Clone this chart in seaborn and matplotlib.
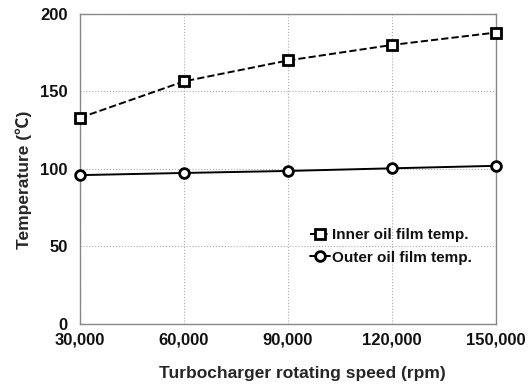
import matplotlib
matplotlib.use("Agg")
import matplotlib.pyplot as plt
import seaborn as sns
import pandas as pd

# datos
speed = [30000, 60000, 90000, 120000, 150000]
inner_temp = [133, 156.5, 170, 180, 188]
outer_temp = [96, 97.4, 98.7, 100.4, 102]
xtick_labels = ['30,000', '60,000', '90,000', '120,000', '150,000']

sns.set_style('white')
plt.rcParams['font.family'] = ['Liberation Sans', 'Noto Sans CJK KR', 'DejaVu Sans']
plt.rcParams['font.weight'] = 'bold'
plt.rcParams['text.color'] = '#111111'

df = pd.DataFrame({'speed': speed, 'inner': inner_temp, 'outer': outer_temp})

fig = plt.figure(figsize=(5.3, 3.87), dpi=100)
ax = fig.add_axes([0.151, 0.163, 0.785, 0.801])

sns.lineplot(data=df, x='speed', y='inner', ax=ax, color='black', linestyle='--',
             linewidth=1.4, marker='s', markersize=6.5, markerfacecolor='white',
             markeredgecolor='black', markeredgewidth=2, label='Inner oil film temp.',
             clip_on=False, zorder=5)
sns.lineplot(data=df, x='speed', y='outer', ax=ax, color='black', linestyle='-',
             linewidth=1.4, marker='o', markersize=7, markerfacecolor='white',
             markeredgecolor='black', markeredgewidth=2, label='Outer oil film temp.',
             clip_on=False, zorder=5)

ax.set_xlim(30000, 150000)
ax.set_ylim(0, 200)
ax.set_xticks(speed)
ax.set_xticklabels(xtick_labels)
ax.set_yticks([0, 50, 100, 150, 200])
ax.grid(True, color='#aaaaaa', linestyle=':', linewidth=0.8)
for s in ax.spines.values():
    s.set_color('#888888')
    s.set_linewidth(1.0)
ax.tick_params(axis='both', labelsize=12, length=3, color='#888888', direction='out',
               labelcolor='#111111')
ax.tick_params(axis='y', pad=6)
for lbl in ax.get_xticklabels() + ax.get_yticklabels():
    lbl.set_fontweight('bold')

ax.set_xlabel('Turbocharger rotating speed (rpm)', fontsize=12.5, fontweight='bold')
ax.set_ylabel('Temperature (℃)', fontsize=12.5, fontweight='bold')
ax.xaxis.set_label_coords(0.535, -0.135)
ax.yaxis.set_label_coords(-0.115, 0.465)

leg = ax.legend(loc='center left', bbox_to_anchor=(0.553, 0.25), frameon=False,
                fontsize=11, handlelength=1.3, handletextpad=0.15, labelspacing=0.55,
                borderaxespad=0, borderpad=0)
for t in leg.get_texts():
    t.set_fontweight('bold')

fig.savefig('out.png', dpi=100)
